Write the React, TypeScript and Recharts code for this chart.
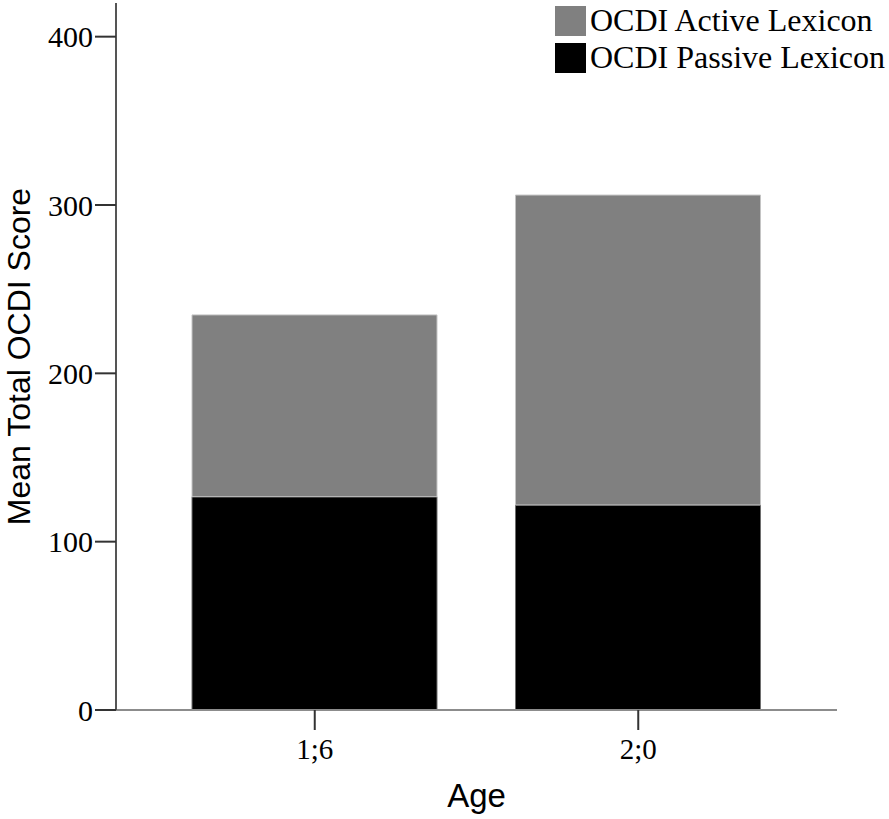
import { BarChart, Bar, XAxis, YAxis, Legend } from 'recharts';

const ages = ['1;6', '2;0'];
const passiveLexicon = [126.7, 121.8];
const activeLexicon = [108, 184.1];
const yTicks = [0, 100, 200, 300, 400];

const data = ages.map((age, i) => ({ age, passive: passiveLexicon[i], active: activeLexicon[i] }));

const SERIF = '"Liberation Serif", "Times New Roman", serif';
const SANS = '"Liberation Sans", Arial, sans-serif';

const legendItems = [
  { label: 'OCDI Active Lexicon', color: '#808080' },
  { label: 'OCDI Passive Lexicon', color: '#000000' },
];

function LegendBox() {
  return (
    <div style={{ fontFamily: SERIF, fontSize: 32, color: '#000' }}>
      {legendItems.map((it) => (
        <div key={it.label} style={{ display: 'flex', alignItems: 'center', height: 37, whiteSpace: 'nowrap' }}>
          <span style={{ display: 'inline-block', width: 31, height: 30, background: it.color, marginRight: 4 }} />
          <span>{it.label}</span>
        </div>
      ))}
    </div>
  );
}

export default function App() {
  return (
    <div>
      <style>{`body{margin:0}`}</style>
      <BarChart width={889} height={819} data={data} margin={{ top: 3, right: 52, bottom: 0, left: 0 }}>
        <XAxis
          dataKey="age"
          height={109}
          padding={{ left: 37, right: 37 }}
          axisLine={{ stroke: '#8c8c8c', strokeWidth: 2 }}
          tickLine={{ stroke: '#333', strokeWidth: 2 }}
          tickSize={20}
          tickMargin={8}
          tick={{ fontFamily: SERIF, fontSize: 29, fill: '#000' }}
          label={{
            content: ({ viewBox }: any) => (
              <text x={viewBox.x + viewBox.width / 2} y={viewBox.y + 97} textAnchor="middle"
                fontFamily={SANS} fontSize={33} fill="#000">Age</text>
            ),
          }}
        />
        <YAxis
          width={116}
          domain={[0, 420]}
          ticks={yTicks}
          axisLine={{ stroke: '#555', strokeWidth: 2 }}
          tickLine={{ stroke: '#333', strokeWidth: 2 }}
          tickSize={21}
          tickMargin={2}
          tick={{ fontFamily: SERIF, fontSize: 30, fill: '#000' }}
          label={{
            content: ({ viewBox }: any) => {
              const cx = viewBox.x + 30;
              const cy = viewBox.y + viewBox.height / 2;
              return (
                <text x={cx} y={cy} textAnchor="middle" transform={`rotate(-90 ${cx} ${cy})`}
                  fontFamily={SANS} fontSize={32} fill="#000">Mean Total OCDI Score</text>
              );
            },
          }}
        />
        <Legend
          layout="vertical"
          align="center"
          verticalAlign="middle"
          content={() => <LegendBox />}
          wrapperStyle={{ top: 2, left: 555, width: 334 }}
        />
        <Bar dataKey="passive" stackId="a" fill="#000000" stroke="#6e6e6e" strokeWidth={1} barSize={245} isAnimationActive={false} />
        <Bar dataKey="active" stackId="a" fill="#808080" stroke="#c4c4c4" strokeWidth={1} barSize={245} isAnimationActive={false} />
      </BarChart>
    </div>
  );
}
